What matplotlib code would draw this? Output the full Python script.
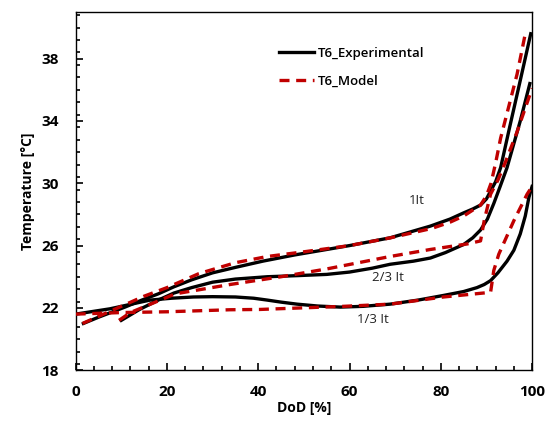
import matplotlib
matplotlib.use("Agg")
import matplotlib.pyplot as plt
from matplotlib.ticker import MultipleLocator

plt.rcParams['font.family'] = ['Open Sans', 'DejaVu Sans']

# 1 It
exp_1_x = [1.7, 5, 10.8, 14.5, 18.1, 21.5, 25.4, 30, 35, 41, 48, 54, 60, 68.9, 77.7, 82, 85, 87, 88.7, 90, 90.9, 92, 93.1, 95, 97.4, 99.7]
exp_1_y = [21.0, 21.4, 22.05, 22.5, 22.9, 23.35, 23.8, 24.25, 24.6, 25.0, 25.4, 25.7, 26.0, 26.5, 27.25, 27.7, 28.1, 28.35, 28.6, 29.0, 29.5, 30.1, 31.0, 33.5, 36.6, 39.6]
mod_1_x = [1.5, 10, 15, 20, 27, 35, 42, 50, 60, 69, 78, 82, 85, 88.7, 90, 91, 92, 93.1, 96.7, 98.5]
mod_1_y = [21.0, 22.1, 22.75, 23.3, 24.2, 24.9, 25.3, 25.6, 26.0, 26.5, 27.1, 27.5, 27.9, 28.6, 29.2, 30.0, 31.3, 32.9, 37.0, 39.6]

# 2/3 It
exp_23_x = [10, 14, 18.1, 21.5, 25.4, 30, 35, 42, 48.5, 55, 60, 65, 68.9, 74, 77.7, 81, 85, 87, 88.7, 90.2, 91.6, 93, 94.5, 97.4, 99.5]
exp_23_y = [21.2, 21.9, 22.5, 22.95, 23.3, 23.65, 23.85, 24.0, 24.07, 24.15, 24.3, 24.55, 24.8, 25.0, 25.2, 25.55, 26.07, 26.5, 27.0, 27.7, 28.7, 29.8, 31.0, 34.0, 36.4]
mod_23_x = [9.5, 12, 21.8, 33.8, 45, 55, 68.9, 77.7, 85.7, 88.7, 89.5, 90.9, 92.5, 94.2, 96.7, 100]
mod_23_y = [21.2, 21.7, 22.9, 23.5, 24.0, 24.5, 25.3, 25.75, 26.1, 26.3, 27.6, 29.3, 30.2, 31.4, 33.3, 36.1]

# 1/3 It
exp_13_x = [0, 7.5, 10.8, 16.3, 21, 25.8, 30, 35, 39, 42, 45, 48.5, 53, 58, 63, 68.9, 75, 80.6, 85, 87.9, 89.5, 90.9, 92.5, 94.5, 96, 97.4, 98.5, 99.3, 100]
exp_13_y = [21.6, 21.94, 22.15, 22.5, 22.62, 22.7, 22.72, 22.7, 22.62, 22.5, 22.37, 22.24, 22.12, 22.05, 22.1, 22.24, 22.5, 22.8, 23.05, 23.3, 23.5, 23.75, 24.25, 25.0, 25.7, 26.75, 27.9, 29.1, 29.8]
mod_13_x = [0, 10, 20, 33.8, 40.4, 58.7, 68.9, 80.6, 90.9, 91.6, 92.7, 96, 98.9, 100]
mod_13_y = [21.6, 21.7, 21.75, 21.88, 21.9, 22.1, 22.24, 22.7, 23.0, 24.4, 25.45, 27.6, 29.3, 29.8]

labels = ["1It", "2/3 It", "1/3 It"]
label_x = [74.8, 68.5, 65.2]
label_y = [28.9, 23.96, 21.26]

fig = plt.figure(figsize=(5.52, 4.26), dpi=100)
ax = fig.add_axes([0.137, 0.131, 0.827, 0.841])

red = '#c00000'
lw = 2.4
dash = (0, (3, 2))
ax.plot(exp_1_x, exp_1_y, color='black', lw=lw, label='T6_Experimental', zorder=2)
ax.plot(mod_1_x, mod_1_y, color=red, lw=lw, ls=dash, label='T6_Model', zorder=3)
ax.plot(exp_23_x, exp_23_y, color='black', lw=lw, zorder=2)
ax.plot(mod_23_x, mod_23_y, color=red, lw=lw, ls=dash, zorder=3)
ax.plot(exp_13_x, exp_13_y, color='black', lw=lw, zorder=2)
ax.plot(mod_13_x, mod_13_y, color=red, lw=lw, ls=dash, zorder=3)

for t, x, y in zip(labels, label_x, label_y):
    ax.text(x, y, t, ha='center', va='center', fontsize=9.5, color='#222222')

ax.set_xlim(0, 100)
ax.set_ylim(18, 41)
ax.xaxis.set_major_locator(MultipleLocator(20))
ax.xaxis.set_minor_locator(MultipleLocator(4))
ax.set_yticks([18, 22, 26, 30, 34, 38])
ax.yaxis.set_minor_locator(MultipleLocator(0.8))
ax.tick_params(which='both', direction='in', top=False, right=False)
ax.tick_params(which='major', length=5, width=1.2, labelsize=11)
ax.tick_params(axis='x', which='major', pad=11)
ax.tick_params(axis='y', which='major', pad=12)
ax.tick_params(which='minor', length=3, width=1.2)
for lab in ax.get_xticklabels() + ax.get_yticklabels():
    lab.set_fontweight('bold')
for s in ax.spines.values():
    s.set_linewidth(1.0)

ax.set_xlabel('DoD [%]', fontsize=10, fontweight='bold', labelpad=1)
ax.set_ylabel('Temperature [°C]', fontsize=10, fontweight='bold', labelpad=5)

leg = ax.legend(loc='upper left', bbox_to_anchor=(0.42, 0.935), frameon=False,
                fontsize=9.5, handlelength=2.6, handletextpad=0.3, labelspacing=1.1)
for t in leg.get_texts():
    t.set_fontweight('semibold')

fig.savefig('out.png', dpi=100)
